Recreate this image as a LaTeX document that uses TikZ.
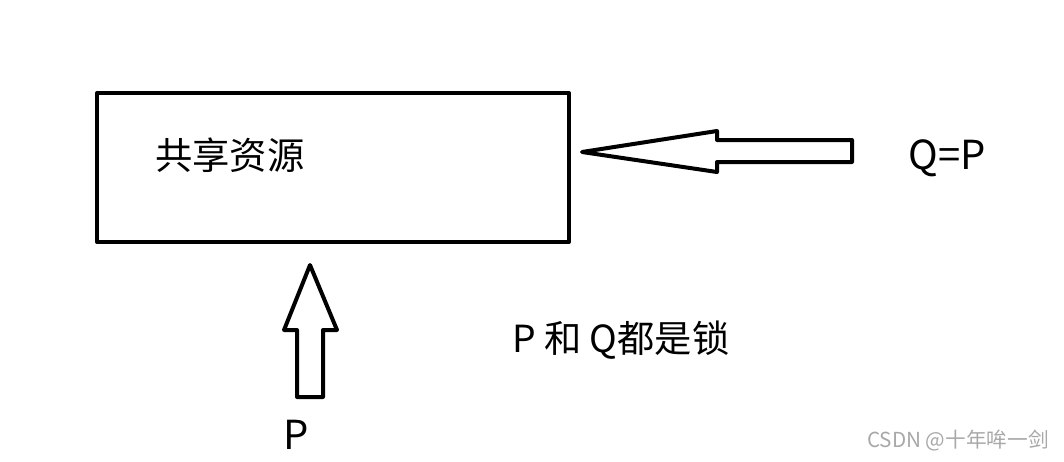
\documentclass[tikz,border=0pt]{standalone}
\usepackage{fontspec}
\setmainfont{Noto Sans CJK SC}
\definecolor{MarkGray}{HTML}{A8A8A8}

\begin{document}
\begin{tikzpicture}[x=0.75pt,y=-0.75pt,line join=round,
  outline/.style={draw=black,line width=3pt},
  label/.style={font=\fontsize{28}{32}\selectfont,inner sep=0pt}]
  \useasboundingbox (0,0) rectangle (1064,461);
  \draw[outline] (97,93) rectangle (569,242);
  \node[label,anchor=west] (res) at (155,155) {共享资源};
  % arrow from Q
  \draw[outline] (582,152)--(717,131)--(717,140)--(852,140)--(852,162)--(717,162)--(717,172)--cycle;
  \node[label,font=\fontsize{30}{34}\selectfont] (q) at (947,158) {Q=P};
  % arrow from P
  \draw[outline] (310,265)--(337,330)--(323,330)--(323,397)--(297,397)--(297,330)--(284,330)--cycle;
  \node[label,font=\fontsize{30}{34}\selectfont] (p) at (296,435) {P};
  \node[label,anchor=west] (note) at (512,340) {P 和 Q都是锁};
  \node[font=\fontsize{15.5}{18}\selectfont,text=MarkGray,inner sep=0pt,anchor=east] (mark) at (1049,441) {CSDN @十年哞一剑};
\end{tikzpicture}
\end{document}
